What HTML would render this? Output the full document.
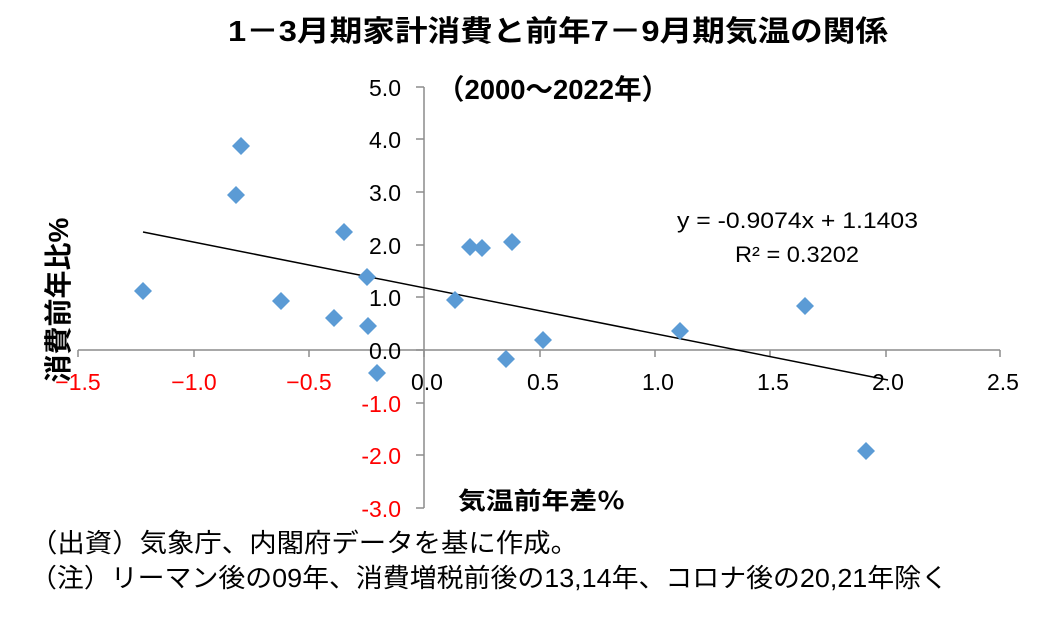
<!DOCTYPE html>
<html><head><meta charset="utf-8"><style>
body{margin:0;background:#fff;}
svg text{font-family:"Liberation Sans","Noto Sans CJK JP",sans-serif;}
</style></head><body>
<svg width="1045" height="621" xmlns="http://www.w3.org/2000/svg">
<rect width="1045" height="621" fill="#fff"/>
<text x="228" y="41" font-size="29" font-weight="bold" textLength="660" lengthAdjust="spacingAndGlyphs">1－3月期家計消費と前年7－9月期気温の関係</text>
<text x="437" y="99" font-size="28" font-weight="bold" textLength="232" lengthAdjust="spacingAndGlyphs">（2000～2022年）</text>
<g stroke="#8c8c8c" stroke-width="1.5">
<line x1="78" y1="350" x2="1000" y2="350"/>
<line x1="424" y1="87" x2="424" y2="508"/>
<line x1="78" y1="350" x2="78" y2="357"/><line x1="194" y1="350" x2="194" y2="357"/><line x1="309" y1="350" x2="309" y2="357"/><line x1="424" y1="350" x2="424" y2="357"/><line x1="540" y1="350" x2="540" y2="357"/><line x1="655" y1="350" x2="655" y2="357"/><line x1="770" y1="350" x2="770" y2="357"/><line x1="886" y1="350" x2="886" y2="357"/><line x1="1000" y1="350" x2="1000" y2="357"/>
<line x1="416" y1="87" x2="424" y2="87"/><line x1="416" y1="139" x2="424" y2="139"/><line x1="416" y1="192" x2="424" y2="192"/><line x1="416" y1="245" x2="424" y2="245"/><line x1="416" y1="297" x2="424" y2="297"/><line x1="416" y1="350" x2="424" y2="350"/><line x1="416" y1="403" x2="424" y2="403"/><line x1="416" y1="455" x2="424" y2="455"/><line x1="416" y1="508" x2="424" y2="508"/>
</g>
<g font-size="23" text-anchor="end">
<text x="401" y="96">5.0</text><text x="401" y="148">4.0</text><text x="401" y="201">3.0</text><text x="401" y="254">2.0</text><text x="401" y="306">1.0</text><text x="401" y="359">0.0</text>
<text x="401" y="412" fill="#ff0000">-1.0</text><text x="401" y="464" fill="#ff0000">-2.0</text><text x="401" y="517" fill="#ff0000">-3.0</text>
</g>
<g font-size="23" text-anchor="middle">
<text x="78" y="390" fill="#ff0000">−1.5</text><text x="194" y="390" fill="#ff0000">−1.0</text><text x="309" y="390" fill="#ff0000">−0.5</text>
<text x="427" y="390">0.0</text><text x="543" y="390">0.5</text><text x="658" y="390">1.0</text><text x="773" y="390">1.5</text><text x="888" y="390">2.0</text><text x="1003" y="390">2.5</text>
</g>
<line x1="143" y1="232" x2="888" y2="380" stroke="#000" stroke-width="1.5"/>
<g fill="#5b9bd5">
<path d="M0,-9 L9,0 L0,9 L-9,0Z" transform="translate(143,291)"/>
<path d="M0,-9 L9,0 L0,9 L-9,0Z" transform="translate(241,146)"/>
<path d="M0,-9 L9,0 L0,9 L-9,0Z" transform="translate(236,195)"/>
<path d="M0,-9 L9,0 L0,9 L-9,0Z" transform="translate(281,301)"/>
<path d="M0,-9 L9,0 L0,9 L-9,0Z" transform="translate(334,318)"/>
<path d="M0,-9 L9,0 L0,9 L-9,0Z" transform="translate(344,232)"/>
<path d="M0,-9 L9,0 L0,9 L-9,0Z" transform="translate(367,277)"/>
<path d="M0,-9 L9,0 L0,9 L-9,0Z" transform="translate(368,326)"/>
<path d="M0,-9 L9,0 L0,9 L-9,0Z" transform="translate(377,373)"/>
<path d="M0,-9 L9,0 L0,9 L-9,0Z" transform="translate(455,300)"/>
<path d="M0,-9 L9,0 L0,9 L-9,0Z" transform="translate(470,247)"/>
<path d="M0,-9 L9,0 L0,9 L-9,0Z" transform="translate(482,248)"/>
<path d="M0,-9 L9,0 L0,9 L-9,0Z" transform="translate(512,242)"/>
<path d="M0,-9 L9,0 L0,9 L-9,0Z" transform="translate(506,359)"/>
<path d="M0,-9 L9,0 L0,9 L-9,0Z" transform="translate(543,340)"/>
<path d="M0,-9 L9,0 L0,9 L-9,0Z" transform="translate(680,331)"/>
<path d="M0,-9 L9,0 L0,9 L-9,0Z" transform="translate(805,306)"/>
<path d="M0,-9 L9,0 L0,9 L-9,0Z" transform="translate(866,451)"/>
</g>
<text x="677" y="228" font-size="22" textLength="241" lengthAdjust="spacingAndGlyphs">y = -0.9074x + 1.1403</text>
<text x="735" y="262" font-size="22" textLength="124" lengthAdjust="spacingAndGlyphs">R² = 0.3202</text>
<text transform="translate(68,300) rotate(-90)" font-size="28" font-weight="bold" text-anchor="middle">消費前年比%</text>
<text x="458" y="509" font-size="24" font-weight="bold" textLength="167" lengthAdjust="spacingAndGlyphs">気温前年差％</text>
<text x="30" y="552" font-size="26" textLength="548" lengthAdjust="spacingAndGlyphs">（出資）気象庁、内閣府データを基に作成。</text>
<text x="30" y="587" font-size="26" textLength="918" lengthAdjust="spacingAndGlyphs">（注）リーマン後の09年、消費増税前後の13,14年、コロナ後の20,21年除く</text>
</svg>
</body></html>
